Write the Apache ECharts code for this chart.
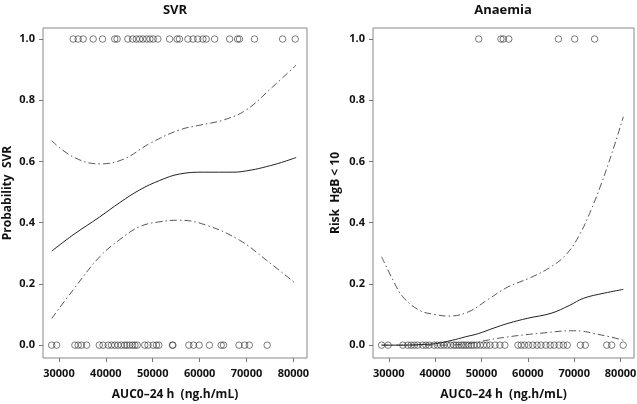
<!DOCTYPE html>
<html><head><meta charset="utf-8">
<script src="https://cdn.jsdelivr.net/npm/echarts@6/dist/echarts.min.js"></script>
<style>html,body{margin:0;padding:0;background:#fff}#c{width:637px;height:404px}</style>
</head><body><div id="c"></div>
<script>
// ---- Data ----
const xTicks = [30000, 40000, 50000, 60000, 70000, 80000];
const yTicks = [0, 0.2, 0.4, 0.6, 0.8, 1.0];

// SVR panel
const svrFit   = [[28450,0.307],[33000,0.36],[38700,0.419],[43000,0.466],[47200,0.507],[51500,0.538],[55700,0.559],[61000,0.565],[67100,0.565],[71000,0.572],[74200,0.583],[77500,0.597],[80600,0.613]];
const svrUpper = [[28450,0.668],[33000,0.615],[38700,0.592],[43700,0.607],[49400,0.659],[55700,0.703],[60500,0.72],[65000,0.735],[69900,0.768],[75600,0.844],[80600,0.915]];
const svrLower = [[28450,0.087],[33000,0.18],[38700,0.289],[43000,0.345],[47200,0.387],[51500,0.403],[55700,0.408],[61400,0.392],[68500,0.343],[74200,0.278],[80600,0.2]];
const svrYes = [33040,34100,35170,37300,39300,41900,42400,44700,45700,46500,47200,47900,48700,49400,50100,51100,53600,55200,55700,57500,58600,59600,60700,61400,63200,66400,68100,68500,71700,77700,80400];
const svrNo  = [28450,29500,33400,34100,34800,35900,38600,39400,40500,41200,41900,42600,43300,44000,44500,45100,45700,46200,46700,48300,49000,50100,50800,51300,54200,54300,57700,58700,59900,62100,64600,65100,68400,69600,70600,74400];

// Anaemia panel
const anFit   = [[28450,0.0],[33000,0.0],[37000,0.002],[40100,0.005],[43700,0.016],[46500,0.027],[49400,0.038],[52500,0.055],[55700,0.071],[60000,0.088],[65000,0.104],[69000,0.13],[72000,0.153],[76500,0.17],[80600,0.182]];
const anUpper = [[28450,0.289],[31000,0.21],[33040,0.158],[36600,0.114],[40000,0.1],[43000,0.095],[47200,0.109],[51500,0.15],[55700,0.19],[60500,0.22],[65000,0.256],[68500,0.3],[71300,0.365],[73600,0.44],[75600,0.517],[78200,0.63],[80600,0.746]];
const anLower = [[28450,0.0],[35000,0.0],[42000,0.0],[47200,0.005],[51500,0.017],[55700,0.027],[59500,0.034],[63500,0.040],[69200,0.047],[72000,0.045],[74200,0.038],[77500,0.028],[80600,0.016]];
const anYes = [49400,54200,54700,55900,66600,70100,74400];
const anNo  = [28450,29850,33040,34100,34830,35530,36230,37300,38020,38720,39790,40490,41210,41910,42620,43340,44040,44530,45110,45680,46170,46660,47230,47810,48360,49000,49720,50430,51130,51850,52910,53980,55040,57870,58570,59300,60150,61060,61980,62830,63890,64830,65680,66740,67660,68510,71340,72400,77020,78090,80570];

// ---- Chart ----
const FONT = '"Open Sans"';
const dashDot = [7,3,1.5,3];
function pts(xs, y){ return xs.map(x => [x, y]); }

function xAxis(gi){
  return {
    type:'value', gridIndex:gi, min:26600, max:82900,
    name:'AUC0\u201324 h  (ng.h/mL)', nameLocation:'middle', nameGap:31, nameMoveOverlap:false,
    nameTextStyle:{fontFamily:FONT, fontWeight:'bold', fontSize:12, color:'#111'},
    axisLine:{show:false, onZero:false}, splitLine:{show:false},
    axisTick:{show:true, length:4, inside:false, customValues:xTicks, lineStyle:{color:'#777'}},
    axisLabel:{customValues:xTicks, margin:10, fontFamily:FONT, fontWeight:'bold', fontSize:11, color:'#111',
      formatter:v=>String(v)}
  };
}
function yAxis(gi, name, gap){
  return {
    type:'value', gridIndex:gi, min:-0.042, max:1.036,
    name:name, nameLocation:'middle', nameGap:gap, nameRotate:90, nameMoveOverlap:false,
    nameTextStyle:{fontFamily:FONT, fontWeight:'bold', fontSize:12, color:'#111'},
    axisLine:{show:false, onZero:false}, splitLine:{show:false},
    axisTick:{show:true, length:4, customValues:yTicks, lineStyle:{color:'#777'}},
    axisLabel:{customValues:yTicks, margin:8, fontFamily:FONT, fontWeight:'bold', fontSize:11, color:'#111',
      formatter:v=>v.toFixed(1)}
  };
}
function lineS(gi, data, type, color, w){
  return {type:'line', xAxisIndex:gi, yAxisIndex:gi, data:data, smooth:0.4, showSymbol:false, symbol:'none',
    lineStyle:{color:color, width:w, type:type}, silent:true, z:3};
}
function scat(gi, data){
  return {type:'scatter', xAxisIndex:gi, yAxisIndex:gi, data:data, symbol:'circle', symbolSize:6.5,
    itemStyle:{color:'rgba(255,255,255,0)', borderColor:'#333', borderWidth:0.8}, silent:true, z:2};
}

const chart = echarts.init(document.getElementById('c'), null, {renderer:'canvas'});
chart.setOption({
  animation:false,
  backgroundColor:'#fff',
  title:[
    {text:'SVR', left:175, top:4, padding:0, textAlign:'center', textStyle:{fontFamily:FONT, fontWeight:'bold', fontSize:13, color:'#111'}},
    {text:'Anaemia', left:503, top:4, padding:0, textAlign:'center', textStyle:{fontFamily:FONT, fontWeight:'bold', fontSize:13, color:'#111'}}
  ],
  grid:[
    {left:43, top:28, width:264, height:330, outerBoundsMode:'none', containLabel:false, show:true, borderColor:'#888', borderWidth:1, backgroundColor:'transparent'},
    {left:373, top:28, width:261, height:330, outerBoundsMode:'none', containLabel:false, show:true, borderColor:'#888', borderWidth:1, backgroundColor:'transparent'}
  ],
  xAxis:[xAxis(0), xAxis(1)],
  yAxis:[yAxis(0,'Probability  SVR',29), yAxis(1,'Risk  HgB < 10',31)],
  series:[
    scat(0, pts(svrYes,1)), scat(0, pts(svrNo,0)),
    lineS(0, svrFit, 'solid', '#222', 1),
    lineS(0, svrUpper, dashDot, '#444', 0.9),
    lineS(0, svrLower, dashDot, '#444', 0.9),
    scat(1, pts(anYes,1)), scat(1, pts(anNo,0)),
    lineS(1, anFit, 'solid', '#222', 1),
    lineS(1, anUpper, dashDot, '#444', 0.9),
    lineS(1, anLower, dashDot, '#444', 0.9)
  ]
});
</script></body></html>
